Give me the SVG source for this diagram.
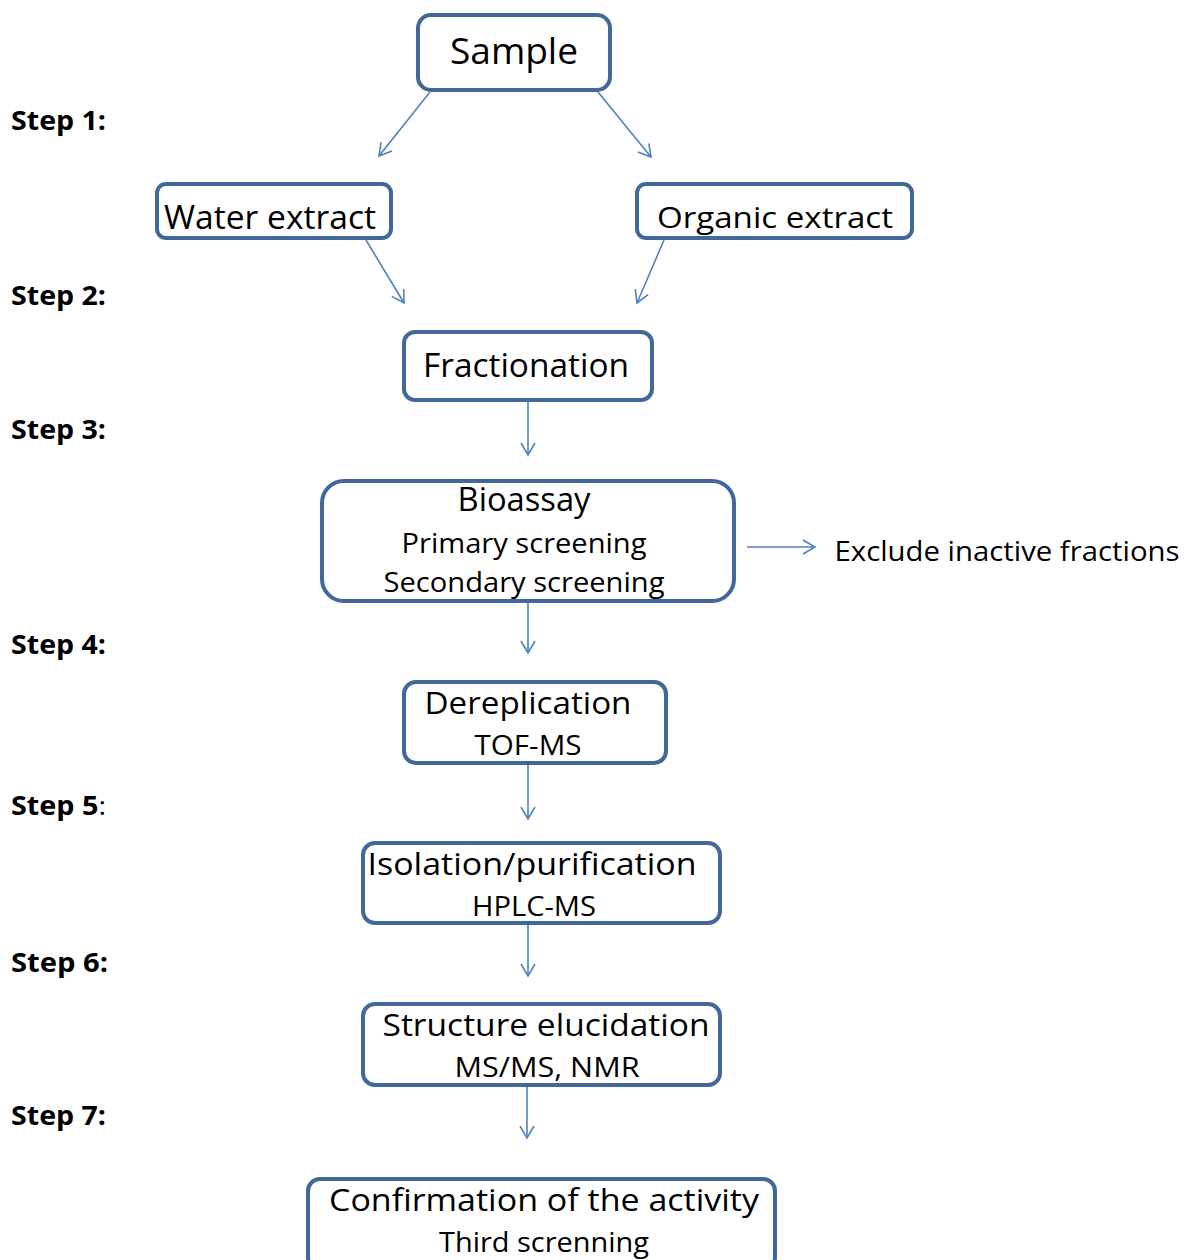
<svg xmlns="http://www.w3.org/2000/svg" width="1186" height="1260" viewBox="0 0 1186 1260">
<style>
.box{fill:#fff;stroke:#41679b;stroke-width:4}
.c{fill:none;stroke:#4f81bd;stroke-width:1.6}
.t{font-family:"Open Sans","Liberation Sans",sans-serif;fill:#000;text-anchor:middle}
.s{font-family:"Open Sans","Liberation Sans",sans-serif;font-weight:bold;font-size:26px;fill:#000}
</style>
<defs>
<marker id="ah" markerWidth="20" markerHeight="20" refX="13" refY="8" orient="auto" markerUnits="userSpaceOnUse">
<path d="M1,1 L13,8 L1,15" fill="none" stroke="#4f81bd" stroke-width="1.6"/>
</marker>
</defs>
<rect width="1186" height="1260" fill="#fff"/>
<g id="steps">
<text class="s" x="11" y="130" textLength="95" lengthAdjust="spacingAndGlyphs">Step 1:</text>
<text class="s" x="11" y="305" textLength="95" lengthAdjust="spacingAndGlyphs">Step 2:</text>
<text class="s" x="11" y="439" textLength="95" lengthAdjust="spacingAndGlyphs">Step 3:</text>
<text class="s" x="11" y="654" textLength="95" lengthAdjust="spacingAndGlyphs">Step 4:</text>
<text class="s" x="11" y="815" textLength="95" lengthAdjust="spacingAndGlyphs">Step 5<tspan font-weight="normal">:</tspan></text>
<text class="s" x="11" y="972" textLength="97" lengthAdjust="spacingAndGlyphs">Step 6:</text>
<text class="s" x="11" y="1125" textLength="95" lengthAdjust="spacingAndGlyphs">Step 7:</text>
</g>
<g id="connectors">
<line class="c" x1="430" y1="92" x2="379" y2="156" marker-end="url(#ah)"/>
<line class="c" x1="598" y1="92" x2="651" y2="157" marker-end="url(#ah)"/>
<line class="c" x1="366" y1="240" x2="404" y2="303" marker-end="url(#ah)"/>
<line class="c" x1="664" y1="240" x2="637" y2="303" marker-end="url(#ah)"/>
<line class="c" x1="528" y1="402" x2="528" y2="455" marker-end="url(#ah)"/>
<line class="c" x1="528" y1="603" x2="528" y2="653" marker-end="url(#ah)"/>
<line class="c" x1="528" y1="765" x2="528" y2="819" marker-end="url(#ah)"/>
<line class="c" x1="528" y1="925" x2="528" y2="976" marker-end="url(#ah)"/>
<line class="c" x1="527" y1="1087" x2="527" y2="1138" marker-end="url(#ah)"/>
<line class="c" x1="747" y1="547" x2="815" y2="547" marker-end="url(#ah)"/>
</g>
<g id="sample">
<rect class="box" x="418" y="15" width="192" height="75" rx="13"/>
<text class="t" x="514" y="64" font-size="36" textLength="128" lengthAdjust="spacingAndGlyphs">Sample</text>
</g>
<g id="water">
<rect class="box" x="157" y="184" width="234" height="54" rx="9"/>
<text class="t" x="270" y="229" font-size="32" textLength="212" lengthAdjust="spacingAndGlyphs">Water extract</text>
</g>
<g id="organic">
<rect class="box" x="637" y="184" width="275" height="54" rx="9"/>
<text class="t" x="775" y="228" font-size="30" textLength="236" lengthAdjust="spacingAndGlyphs">Organic extract</text>
</g>
<g id="fractionation">
<rect class="box" x="404" y="332" width="248" height="68" rx="11"/>
<text class="t" x="526" y="377" font-size="32" textLength="206" lengthAdjust="spacingAndGlyphs">Fractionation</text>
</g>
<g id="bioassay">
<rect class="box" x="322" y="481" width="412" height="120" rx="22"/>
<text class="t" x="524" y="511" font-size="32" textLength="133" lengthAdjust="spacingAndGlyphs">Bioassay</text>
<text class="t" x="524" y="553" font-size="28" textLength="245" lengthAdjust="spacingAndGlyphs">Primary screening</text>
<text class="t" x="524" y="592" font-size="28" textLength="281" lengthAdjust="spacingAndGlyphs">Secondary screening</text>
</g>
<g id="exclude">
<text class="t" x="1007" y="561" font-size="28" textLength="345" lengthAdjust="spacingAndGlyphs">Exclude inactive fractions</text>
</g>
<g id="dereplication">
<rect class="box" x="404" y="682" width="262" height="81" rx="12"/>
<text class="t" x="528" y="714" font-size="31" textLength="207" lengthAdjust="spacingAndGlyphs">Dereplication</text>
<text class="t" x="528" y="755" font-size="27" textLength="107" lengthAdjust="spacingAndGlyphs">TOF-MS</text>
</g>
<g id="isolation">
<rect class="box" x="363" y="843" width="357" height="80" rx="12"/>
<text class="t" x="532" y="875" font-size="31" textLength="329" lengthAdjust="spacingAndGlyphs">Isolation/purification</text>
<text class="t" x="534" y="916" font-size="27" textLength="124" lengthAdjust="spacingAndGlyphs">HPLC-MS</text>
</g>
<g id="structure">
<rect class="box" x="363" y="1004" width="357" height="81" rx="12"/>
<text class="t" x="546" y="1036" font-size="31" textLength="327" lengthAdjust="spacingAndGlyphs">Structure elucidation</text>
<text class="t" x="547" y="1077" font-size="27" textLength="185" lengthAdjust="spacingAndGlyphs">MS/MS, NMR</text>
</g>
<g id="confirmation">
<rect class="box" x="308" y="1179" width="467" height="90" rx="12"/>
<text class="t" x="544" y="1211" font-size="31" textLength="430" lengthAdjust="spacingAndGlyphs">Confirmation of the activity</text>
<text class="t" x="544" y="1252" font-size="27" textLength="210" lengthAdjust="spacingAndGlyphs">Third screnning</text>
</g>
</svg>
